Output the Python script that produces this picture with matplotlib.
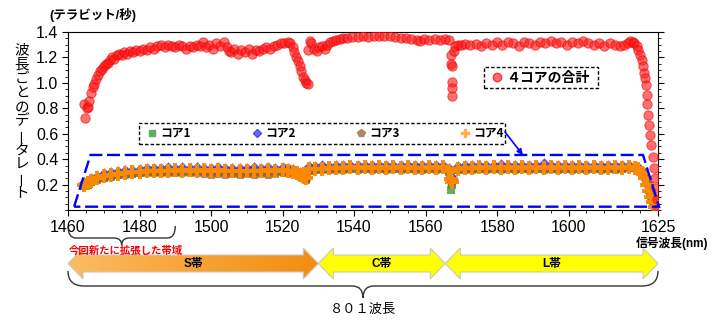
import numpy as np
import matplotlib
matplotlib.use("Agg")
import matplotlib.pyplot as plt
from matplotlib.patches import Polygon, Rectangle, PathPatch
from matplotlib.path import Path
from matplotlib.lines import Line2D
from matplotlib.colors import LinearSegmentedColormap

plt.rcParams['font.family'] = ['Liberation Sans', 'Noto Sans CJK JP', 'DejaVu Sans']

# Total of the 4 cores (Tb/s per wavelength) as (nm, value).
total_points = [
    (1464.8, 0.72), (1464.5, 0.83), (1465.2, 0.80), (1465.7, 0.81), (1466.0, 0.86),
    (1466.5, 0.92), (1466.9, 0.97), (1467.3, 0.99), (1467.8, 1.03), (1468.3, 1.06),
    (1468.9, 1.09), (1469.4, 1.11), (1470.0, 1.13), (1470.6, 1.15), (1471.2, 1.16),
    (1471.8, 1.18), (1472.4, 1.20), (1473.0, 1.19), (1473.6, 1.22), (1474.3, 1.23),
    (1475.0, 1.22), (1475.8, 1.24), (1476.6, 1.23), (1477.4, 1.25), (1478.2, 1.24),
    (1479.0, 1.26), (1480.0, 1.25), (1481.0, 1.27), (1482.0, 1.26), (1483.0, 1.28),
    (1484.0, 1.27), (1485.0, 1.29), (1486.0, 1.30), (1487.0, 1.28), (1488.0, 1.30),
    (1489.0, 1.29), (1490.0, 1.28), (1491.0, 1.30), (1492.0, 1.29), (1493.0, 1.27),
    (1494.0, 1.29), (1495.0, 1.28), (1496.0, 1.30), (1497.0, 1.29), (1497.8, 1.32),
    (1498.5, 1.28), (1499.5, 1.30), (1500.5, 1.27), (1501.5, 1.31), (1502.5, 1.29),
    (1503.5, 1.32), (1504.5, 1.28), (1505.0, 1.25), (1505.5, 1.24), (1506.5, 1.27),
    (1507.5, 1.23), (1508.5, 1.26), (1509.5, 1.24), (1510.5, 1.27), (1511.5, 1.23),
    (1512.5, 1.26), (1513.5, 1.25), (1514.5, 1.27), (1515.5, 1.28), (1516.5, 1.27),
    (1517.5, 1.29), (1518.5, 1.30), (1519.5, 1.31), (1520.5, 1.31), (1521.5, 1.32),
    (1522.2, 1.31), (1522.8, 1.28), (1523.3, 1.24), (1523.8, 1.20), (1524.3, 1.17),
    (1524.8, 1.13), (1525.3, 1.09), (1525.8, 1.05), (1526.2, 1.02), (1526.6, 1.00),
    (1527.0, 0.99),
    (1527.0, 1.26), (1527.6, 1.33), (1528.0, 1.31), (1528.8, 1.27), (1529.5, 1.25),
    (1530.3, 1.28), (1531.0, 1.29), (1531.8, 1.27), (1532.5, 1.30), (1533.3, 1.32),
    (1534.0, 1.33), (1535.0, 1.34), (1536.0, 1.345), (1537.0, 1.35), (1538.0, 1.355),
    (1539.5, 1.36), (1541.0, 1.36), (1542.5, 1.365), (1544.0, 1.36), (1545.5, 1.37),
    (1547.0, 1.365), (1548.5, 1.37), (1550.0, 1.365), (1551.5, 1.36), (1553.0, 1.355),
    (1554.5, 1.35), (1556.0, 1.345), (1557.5, 1.34), (1558.5, 1.33), (1559.5, 1.345),
    (1561.0, 1.34), (1562.5, 1.345), (1564.0, 1.34), (1565.5, 1.345), (1566.5, 1.34),
    (1567.2, 1.22), (1567.0, 1.15), (1567.5, 1.13), (1567.3, 1.01), (1567.5, 0.96),
    (1567.4, 0.90), (1567.9, 1.25), (1568.3, 1.29),
    (1569.0, 1.30), (1570.0, 1.30), (1571.0, 1.305), (1572.5, 1.30), (1574.0, 1.305),
    (1575.5, 1.29), (1577.0, 1.31), (1578.5, 1.30), (1580.0, 1.32), (1581.5, 1.30),
    (1583.0, 1.32), (1584.5, 1.31), (1586.0, 1.29), (1587.5, 1.32), (1589.0, 1.31),
    (1590.5, 1.30), (1592.0, 1.32), (1593.5, 1.31), (1595.0, 1.33), (1596.5, 1.31),
    (1598.0, 1.32), (1599.5, 1.30), (1601.0, 1.32), (1602.5, 1.31), (1604.0, 1.33),
    (1605.5, 1.31), (1607.0, 1.30), (1608.5, 1.31), (1610.0, 1.29), (1611.5, 1.31),
    (1613.0, 1.30), (1614.5, 1.29), (1615.5, 1.30), (1616.5, 1.31), (1617.3, 1.33),
    (1617.9, 1.325), (1618.4, 1.31), (1619.0, 1.29), (1619.5, 1.26), (1620.0, 1.22),
    (1620.5, 1.18), (1620.9, 1.13), (1621.2, 1.08), (1621.4, 1.04), (1621.6, 0.98),
    (1621.8, 0.905), (1622.0, 0.83), (1622.3, 0.75), (1622.5, 0.67), (1622.8, 0.59),
    (1623.0, 0.51), (1623.5, 0.42), (1623.9, 0.33), (1624.2, 0.25), (1624.4, 0.17),
    (1624.7, 0.09), (1624.9, 0.01),
]

# Per-core rates (Tb/s), sampled on the same wavelengths.
wl_core = [
    1464.5, 1465.5, 1466.5, 1468, 1470, 1472, 1474, 1476, 1478, 1480,
    1482, 1484, 1486, 1488, 1490, 1492, 1494, 1496, 1498, 1500,
    1502, 1504, 1506, 1508, 1510, 1512, 1514, 1516, 1518, 1520,
    1521.5, 1523, 1524, 1525, 1526, 1526.5,
    1527.5, 1529, 1531, 1533, 1535, 1537, 1539, 1541, 1543, 1545, 1547,
    1549, 1551, 1553, 1555, 1557, 1559, 1561, 1563, 1565,
    1566.5, 1567, 1567.5,
    1569, 1571, 1573, 1575, 1577, 1579, 1581, 1583, 1585, 1587,
    1589, 1591, 1593, 1595, 1597, 1599, 1601, 1603, 1605, 1607, 1609, 1611, 1613, 1615, 1617,
    1618.5, 1619.5, 1620.5, 1621.3, 1622, 1622.6, 1623.1, 1623.6, 1624.1,
]
core1 = [
    0.19, 0.20, 0.22, 0.24, 0.255, 0.265, 0.275, 0.28, 0.285, 0.29,
    0.295, 0.30, 0.30, 0.305, 0.30, 0.305, 0.30, 0.305, 0.30, 0.30,
    0.30, 0.295, 0.29, 0.28, 0.29, 0.295, 0.30, 0.30, 0.305, 0.30,
    0.30, 0.29, 0.28, 0.265, 0.25, 0.24,
    0.31, 0.315, 0.32, 0.32, 0.325, 0.32, 0.325, 0.32, 0.325, 0.32, 0.325,
    0.32, 0.325, 0.32, 0.325, 0.32, 0.325, 0.32, 0.325, 0.32,
    0.30, 0.16, 0.20,
    0.315, 0.32, 0.325, 0.32, 0.325, 0.32, 0.325, 0.32, 0.325, 0.32,
    0.325, 0.32, 0.325, 0.32, 0.325, 0.32, 0.325, 0.32, 0.325, 0.32, 0.325, 0.32, 0.325, 0.32, 0.33,
    0.33, 0.325, 0.30, 0.26, 0.21, 0.16, 0.11, 0.065, 0.025,
]
core2 = [
    0.21, 0.22, 0.24, 0.26, 0.28, 0.29, 0.30, 0.305, 0.31, 0.315,
    0.32, 0.325, 0.32, 0.33, 0.325, 0.33, 0.325, 0.33, 0.32, 0.325,
    0.33, 0.32, 0.325, 0.32, 0.325, 0.33, 0.325, 0.33, 0.325, 0.33,
    0.325, 0.315, 0.30, 0.29, 0.275, 0.26,
    0.335, 0.34, 0.345, 0.34, 0.35, 0.345, 0.35, 0.345, 0.35, 0.345, 0.35,
    0.345, 0.35, 0.345, 0.35, 0.345, 0.35, 0.345, 0.35, 0.345,
    0.32, 0.26, 0.24,
    0.34, 0.345, 0.35, 0.345, 0.35, 0.345, 0.355, 0.345, 0.35, 0.345,
    0.35, 0.345, 0.36, 0.345, 0.35, 0.345, 0.35, 0.345, 0.35, 0.345, 0.35, 0.345, 0.35, 0.345, 0.345,
    0.34, 0.33, 0.30, 0.26, 0.21, 0.16, 0.11, 0.07, 0.03,
]
core3 = [
    0.195, 0.205, 0.225, 0.245, 0.26, 0.27, 0.28, 0.285, 0.29, 0.295,
    0.295, 0.30, 0.30, 0.30, 0.30, 0.295, 0.30, 0.295, 0.29, 0.285,
    0.29, 0.285, 0.29, 0.285, 0.29, 0.285, 0.29, 0.285, 0.29, 0.295,
    0.30, 0.29, 0.28, 0.265, 0.25, 0.24,
    0.315, 0.32, 0.32, 0.325, 0.325, 0.325, 0.33, 0.325, 0.33, 0.325, 0.33,
    0.325, 0.33, 0.325, 0.33, 0.325, 0.325, 0.33, 0.325, 0.33,
    0.31, 0.22, 0.23,
    0.32, 0.325, 0.325, 0.33, 0.325, 0.33, 0.325, 0.33, 0.325, 0.33,
    0.325, 0.33, 0.325, 0.33, 0.325, 0.33, 0.325, 0.33, 0.325, 0.33, 0.325, 0.33, 0.325, 0.33, 0.34,
    0.34, 0.33, 0.30, 0.26, 0.21, 0.16, 0.11, 0.065, 0.025,
]
core4 = [
    0.20, 0.21, 0.23, 0.25, 0.265, 0.275, 0.285, 0.29, 0.295, 0.30,
    0.305, 0.305, 0.31, 0.31, 0.315, 0.31, 0.315, 0.31, 0.315, 0.31,
    0.315, 0.31, 0.305, 0.31, 0.305, 0.31, 0.31, 0.315, 0.31, 0.315,
    0.31, 0.30, 0.29, 0.275, 0.26, 0.25,
    0.32, 0.325, 0.325, 0.33, 0.33, 0.33, 0.335, 0.33, 0.335, 0.33, 0.335,
    0.33, 0.335, 0.33, 0.335, 0.33, 0.33, 0.335, 0.33, 0.335,
    0.31, 0.24, 0.22,
    0.325, 0.33, 0.33, 0.335, 0.33, 0.335, 0.33, 0.335, 0.33, 0.335,
    0.33, 0.335, 0.33, 0.335, 0.33, 0.335, 0.33, 0.335, 0.33, 0.335, 0.33, 0.33, 0.335, 0.33, 0.335,
    0.33, 0.32, 0.29, 0.25, 0.20, 0.15, 0.10, 0.06, 0.02,
]

core_labels = ['コア1', 'コア2', 'コア3', 'コア4']
total_label = '４コアの合計'
x_ticks = [1460, 1480, 1500, 1520, 1540, 1560, 1580, 1600, 1625]
y_ticks = [0.2, 0.4, 0.6, 0.8, 1.0, 1.2, 1.4]

# Bands below the axis: label, start nm, end nm
bands = [('S帯', 1460, 1530), ('C帯', 1530, 1565.5), ('L帯', 1565.5, 1625)]
new_band = (1460, 1490)

W, H = 720, 325
fig = plt.figure(figsize=(W / 100, H / 100), dpi=100)
ax = fig.add_axes([68 / W, 1 - 210 / H, 590 / W, 178 / H])

# Cores (blue first so it peeks out above the orange band)
styles = {
    'コア1': dict(marker='s', c='#3f9a3f', s=40, a=0.8),
    'コア2': dict(marker='D', c='#2828ff', s=40, a=0.8),
    'コア3': dict(marker='p', c='#9c6038', s=60, a=0.85),
    'コア4': dict(marker='P', c='#ff8a00', s=95, a=0.95),
}
series = {'コア1': core1, 'コア2': core2, 'コア3': core3, 'コア4': core4}
for name in ['コア2', 'コア1', 'コア3', 'コア4']:
    st = styles[name]
    ax.scatter(wl_core, series[name], marker=st['marker'], s=st['s'], c=st['c'],
               alpha=st['a'], linewidths=0, zorder=3)

tw, tv = np.array(total_points).T
ax.scatter(tw, tv, s=45, c='#ff1a1a', alpha=0.62, edgecolors='#ee0000',
           linewidths=0.7, zorder=4)

ax.set_xlim(1460, 1625)
ax.set_ylim(0, 1.4)
ax.set_xticks(x_ticks)
ax.set_xticks(np.arange(1460, 1626, 5), minor=True)
ax.set_yticks(y_ticks)
ax.set_yticklabels(['%.1f' % v for v in y_ticks])
ax.set_yticks(np.arange(0, 1.41, 0.05), minor=True)
ax.tick_params(which='major', direction='out', length=4, width=0.8,
               labelsize=11.5, pad=3)
ax.tick_params(which='minor', direction='out', length=2, width=0.6)
ax.tick_params(axis='y', which='both', right=True)
for sp in ax.spines.values():
    sp.set_linewidth(0.8)

# Legend for cores, in a dashed box
leg_handles = [
    Line2D([], [], ls='none', marker='s', ms=5, mfc='#62ad62', mec='#62ad62'),
    Line2D([], [], ls='none', marker='D', ms=4.5, mfc='#6a6aff', mec='#4848ff'),
    Line2D([], [], ls='none', marker='p', ms=5.5, mfc='#b38468', mec='#b38468'),
    Line2D([], [], ls='none', marker='P', ms=6, mfc='#ffb04a', mec='#ffb04a'),
]
jp_bold = {'family': ['Noto Sans CJK JP'], 'weight': 'bold', 'size': 8.5}
leg1 = ax.legend(leg_handles, core_labels, ncol=4, frameon=False, prop=jp_bold,
                 loc='center', bbox_to_anchor=((326 - 68) / 590, (210 - 133.5) / 178),
                 handlelength=0.7, handletextpad=0.35, columnspacing=5.2,
                 borderpad=0, borderaxespad=0)
ax.add_artist(leg1)
ax.add_patch(Rectangle((0.1203, 0.3708), 0.6204, 0.118, transform=ax.transAxes,
                       fill=False, ec='black', lw=1.0, ls=(0, (2.5, 1.5)),
                       clip_on=False, zorder=5))

jp_bold10 = {'family': ['Noto Sans CJK JP'], 'weight': 'bold', 'size': 10}
leg2 = ax.legend([Line2D([], [], ls='none', marker='o', ms=6, mfc='#ff6a6a',
                         mec='#ff3030')], [total_label],
                 frameon=False, prop=jp_bold10, loc='center',
                 bbox_to_anchor=((541 - 68) / 590, (210 - 77.7) / 178),
                 handlelength=0.6, handletextpad=0.4, borderpad=0, borderaxespad=0)
ax.add_patch(Rectangle((0.7051, 0.6854), 0.1932, 0.1152, transform=ax.transAxes,
                       fill=False, ec='black', lw=1.0, ls=(0, (2.5, 1.5)),
                       clip_on=False, zorder=5))

# Blue dashed outline around the per-core data, and its pointer
ax.add_patch(Polygon([(1461.7, 0.026), (1466.3, 0.433), (1620.8, 0.433), (1625.3, 0.026)],
                     closed=True, fill=False, ec='#0000ff', lw=1.7,
                     ls=(0, (5.5, 2)), clip_on=False, zorder=6))
ax.annotate('', xy=(1587.2, 0.433), xytext=(1582.2, 0.614),
            arrowprops=dict(arrowstyle='-|>', color='#0000ff', lw=1.2,
                            mutation_scale=8, shrinkA=0, shrinkB=0))

# Y label: vertical writing, one glyph per row
ylab = '波長ごとのデータレート'
for i, ch in enumerate(ylab):
    fig.text(22 / W, 1 - (50 + i * 14.3) / H, ch, ha='center', va='center',
             fontsize=10.5, rotation=90 if ch == 'ー' else 0,
             family=['Noto Sans CJK JP'])
fig.text(49 / W, 1 - 15 / H, '(テラビット/秒)', ha='left', va='center',
         fontsize=9, fontweight='bold')
fig.text(672 / W, 1 - 243 / H, '信号波長(nm)', ha='center', va='center',
         fontsize=8.5, fontweight='bold')

# Lower panel: x in nm (same as the plot), y in pixel rows
ax2 = fig.add_axes([68 / W, 0, 590 / W, 115 / H])
ax2.set_xlim(1460, 1625)
ax2.set_ylim(325, 210)
ax2.axis('off')


def double_arrow(x0, x1, yc=263.5, head=4.2, body=8.5, hh=15.5):
    return [(x0, yc), (x0 + head, yc - hh), (x0 + head, yc - body),
            (x1 - head, yc - body), (x1 - head, yc - hh), (x1, yc),
            (x1 - head, yc + hh), (x1 - head, yc + body),
            (x0 + head, yc + body), (x0 + head, yc + hh)]


def brace(x0, x1, xm, y_top, y_mid, y_tip, r, rt, **kw):
    verts = [(x0, y_top), (x0, y_mid), (x0 + r, y_mid),
             (xm - rt, y_mid), (xm, y_mid), (xm, y_tip),
             (xm, y_mid), (xm + rt, y_mid),
             (x1 - r, y_mid), (x1, y_mid), (x1, y_top)]
    codes = [Path.MOVETO, Path.CURVE3, Path.CURVE3,
             Path.LINETO, Path.CURVE3, Path.CURVE3,
             Path.CURVE3, Path.CURVE3,
             Path.LINETO, Path.CURVE3, Path.CURVE3]
    return PathPatch(Path(verts, codes), fill=False, **kw)


s_cmap = LinearSegmentedColormap.from_list('sband', ['#fbbd62', '#f7a335', '#f38d10'])
for name, a, b in bands:
    if name == 'S帯':
        poly = Polygon(double_arrow(a, b), closed=True, fc='none', ec='#c8c8c8',
                       lw=0.8, zorder=3)
        ax2.add_patch(poly)
        im = ax2.imshow(np.linspace(0, 1, 256).reshape(1, -1), cmap=s_cmap,
                        extent=(a, b, 279, 248), aspect='auto', zorder=2)
        im.set_clip_path(poly)
    else:
        ax2.add_patch(Polygon(double_arrow(a, b), closed=True, fc='#ffff00',
                              ec='#c8c8c8', lw=0.8, zorder=3))
    ax2.text((a + b) / 2, 264, name, ha='center', va='center', fontsize=8.5,
             fontweight='bold', zorder=4)
ax2.set_xlim(1460, 1625)
ax2.set_ylim(325, 210)

ax2.add_patch(brace(new_band[0], new_band[1], 1475, 226, 238, 245, 2.2, 2.2,
                    ec='#333333', lw=1.0, clip_on=False))
ax2.text(1476.2, 250, '今回新たに拡張した帯域', ha='center', va='center',
         fontsize=7.5, fontweight='bold', color='#ff0000', zorder=5)
ax2.add_patch(brace(bands[0][1], bands[-1][2], 1542.5, 271, 286, 298, 4.5, 3.0,
                    ec='#333333', lw=1.0, clip_on=False))
ax2.text(1542.5, 310, '８０１波長', ha='center', va='center', fontsize=9.5)

fig.savefig('out.png', dpi=100)
